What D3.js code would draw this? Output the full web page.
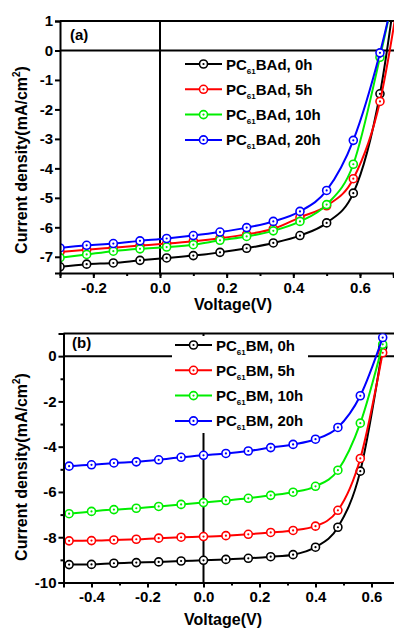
<!DOCTYPE html>
<html>
<head>
<meta charset="utf-8">
<script src="https://cdn.jsdelivr.net/npm/d3@7"></script>
<style>
  body { margin: 0; background: #fff; }
  text { font-family: "Liberation Sans", Arial, sans-serif; font-weight: bold; fill: #000; }
</style>
</head>
<body>
<div id="chart-container"></div>
<script>
// panel (a) : PC61BAd
const voltsA = [-0.3, -0.22, -0.14, -0.06, 0.02, 0.10, 0.18, 0.26, 0.34, 0.42, 0.50, 0.58, 0.66, 0.74];
const bad0h  = [-7.34, -7.25, -7.21, -7.12, -7.04, -6.96, -6.85, -6.71, -6.53, -6.28, -5.85, -4.84, -1.47, 5.0];
const bad5h  = [-6.84, -6.76, -6.69, -6.62, -6.55, -6.47, -6.37, -6.24, -6.05, -5.66, -5.27, -4.35, -1.73, 3.6];
const bad10h = [-7.03, -6.92, -6.81, -6.73, -6.67, -6.59, -6.44, -6.31, -6.12, -5.80, -5.23, -3.86, -0.23, 4.0];
const bad20h = [-6.70, -6.61, -6.55, -6.46, -6.38, -6.28, -6.16, -6.01, -5.80, -5.46, -4.75, -3.05, -0.08, 3.9];
const labelsA = ["BAd, 0h", "BAd, 5h", "BAd, 10h", "BAd, 20h"];
const xTicksA = [-0.2, 0.0, 0.2, 0.4, 0.6];
const yTicksA = [1, 0, -1, -2, -3, -4, -5, -6, -7];

// panel (b) : PC61BM
const voltsB = [-0.48, -0.40, -0.32, -0.24, -0.16, -0.08, 0.0, 0.08, 0.16, 0.24, 0.32, 0.40, 0.48, 0.56, 0.64];
const bm0h  = [-9.21, -9.20, -9.15, -9.12, -9.09, -9.05, -9.02, -8.98, -8.93, -8.86, -8.77, -8.44, -7.56, -5.08, 0.4];
const bm5h  = [-8.16, -8.15, -8.12, -8.09, -8.04, -8.00, -7.97, -7.93, -7.87, -7.79, -7.70, -7.51, -6.81, -4.52, 0.15];
const bm10h = [-6.96, -6.86, -6.78, -6.72, -6.64, -6.55, -6.47, -6.38, -6.28, -6.15, -6.01, -5.75, -5.04, -2.96, 0.52];
const bm20h = [-4.86, -4.80, -4.72, -4.67, -4.58, -4.47, -4.38, -4.30, -4.19, -4.04, -3.90, -3.67, -3.15, -1.75, 0.82];
const labelsB = ["BM, 0h", "BM, 5h", "BM, 10h", "BM, 20h"];
const xTicksB = [-0.4, -0.2, 0.0, 0.2, 0.4, 0.6];
const yTicksB = [0, -2, -4, -6, -8, -10];

const colors = ["#000000", "#ff0000", "#00ee00", "#0000ff"];

const svg = d3.select("#chart-container")
    .append("svg")
    .attr("width", 394)
    .attr("height", 628);

function drawPanel(p) {
    const x = d3.scaleLinear().domain(p.xDomain).range(p.xRange);
    const y = d3.scaleLinear().domain(p.yDomain).range(p.yRange);
    const g = svg.append("g");

    const clipId = "clip-" + p.tag;
    svg.append("clipPath").attr("id", clipId)
        .append("rect")
        .attr("x", p.xRange[0]).attr("y", p.yRange[1])
        .attr("width", 394 - p.xRange[0])
        .attr("height", p.yRange[0] - p.yRange[1]);

    // zero lines
    g.append("line")
        .attr("x1", p.xRange[0]).attr("x2", 394)
        .attr("y1", y(0)).attr("y2", y(0))
        .attr("stroke", "#000").attr("stroke-width", 2);
    g.append("line")
        .attr("x1", x(0)).attr("x2", x(0))
        .attr("y1", p.yRange[1]).attr("y2", p.yRange[0])
        .attr("stroke", "#000").attr("stroke-width", 2);

    // top frame line
    g.append("line")
        .attr("x1", p.xRange[0]).attr("x2", 394)
        .attr("y1", p.yRange[1]).attr("y2", p.yRange[1])
        .attr("stroke", "#000").attr("stroke-width", 2);

    const line = d3.line()
        .x(d => x(d[0]))
        .y(d => y(d[1]))
        .curve(d3.curveMonotoneX);

    const plot = g.append("g").attr("clip-path", `url(#${clipId})`);
    p.series.forEach((vals, i) => {
        const pts = p.volts.map((v, k) => [v, vals[k]]);
        plot.append("path")
            .datum(pts)
            .attr("fill", "none")
            .attr("stroke", colors[i])
            .attr("stroke-width", 2)
            .attr("d", line);
        const m = plot.selectAll(null).data(pts).enter().append("g")
            .attr("transform", d => `translate(${x(d[0])},${y(d[1])})`);
        m.append("circle").attr("r", 4)
            .attr("fill", "#fff").attr("stroke", colors[i]).attr("stroke-width", 1.6);
        m.append("circle").attr("r", 1.1).attr("fill", colors[i]);
    });

    // axes
    const xMinor = d3.range(p.xDomain[0], p.xDomain[1] + 0.001, 0.1).map(v => +v.toFixed(2));
    g.append("g")
        .attr("transform", `translate(0,${p.yRange[0]})`)
        .call(d3.axisBottom(x).tickValues(xMinor).tickSize(3).tickFormat(""))
        .call(a => a.select(".domain").remove())
        .selectAll("line").attr("stroke-width", 2);
    const xa = g.append("g")
        .attr("transform", `translate(0,${p.yRange[0]})`)
        .call(d3.axisBottom(x).tickValues(p.xTicks).tickSize(5).tickPadding(4)
            .tickFormat(d => d.toFixed(1)));
    xa.select(".domain").attr("stroke-width", 2);
    xa.selectAll("line").attr("stroke-width", 2);
    xa.selectAll("text").attr("font-size", 15).attr("font-weight", "bold")
        .attr("font-family", "Liberation Sans, Arial, sans-serif");

    if (p.yMinor) {
        g.append("g")
            .attr("transform", `translate(${p.xRange[0]},0)`)
            .call(d3.axisLeft(y).tickValues(p.yMinor).tickSize(3).tickFormat(""))
            .call(a => a.select(".domain").remove())
            .selectAll("line").attr("stroke-width", 2);
    }
    const ya = g.append("g")
        .attr("transform", `translate(${p.xRange[0]},0)`)
        .call(d3.axisLeft(y).tickValues(p.yTicks).tickSize(5).tickPadding(2)
            .tickFormat(d => String(d)));
    ya.select(".domain").attr("stroke-width", 2);
    ya.selectAll("line").attr("stroke-width", 2);
    ya.selectAll("text").attr("font-size", 15).attr("font-weight", "bold")
        .attr("font-family", "Liberation Sans, Arial, sans-serif");

    // panel tag
    g.append("text").attr("x", p.tagX).attr("y", p.tagY)
        .attr("font-size", 15).text(`(${p.tag})`);

    // axis titles
    g.append("text")
        .attr("x", p.xTitle[0]).attr("y", p.xTitle[1])
        .attr("text-anchor", "middle").attr("font-size", 16)
        .text("Voltage(V)");
    const yt = g.append("text")
        .attr("transform", `translate(${p.yTitle[0]},${p.yTitle[1]}) rotate(-90)`)
        .attr("text-anchor", "middle").attr("font-size", 16);
    yt.append("tspan").text("Current density(mA/cm");
    yt.append("tspan").attr("font-size", 10).attr("dy", -7).text("2");
    yt.append("tspan").attr("dy", 7).text(")");

    // legend
    if (p.legendBox) {
        g.append("rect")
            .attr("x", p.legendBox[0]).attr("y", p.legendBox[1])
            .attr("width", p.legendBox[2]).attr("height", p.legendBox[3])
            .attr("fill", "#fff");
    }
    p.labels.forEach((lab, i) => {
        const cy = p.legendY + i * 25.3;
        const lx = p.legendX;
        g.append("line")
            .attr("x1", lx).attr("x2", lx + 37)
            .attr("y1", cy).attr("y2", cy)
            .attr("stroke", colors[i]).attr("stroke-width", 2);
        g.append("circle").attr("cx", lx + 18.5).attr("cy", cy).attr("r", 4)
            .attr("fill", "#fff").attr("stroke", colors[i]).attr("stroke-width", 1.6);
        g.append("circle").attr("cx", lx + 18.5).attr("cy", cy).attr("r", 1.1)
            .attr("fill", colors[i]);
        const t = g.append("text").attr("x", lx + 41).attr("y", cy + 5.5)
            .attr("font-size", 15);
        t.append("tspan").text("PC");
        t.append("tspan").attr("font-size", 8).attr("dy", 4).text("61");
        t.append("tspan").attr("dy", -4).text(lab);
    });
}

drawPanel({
    tag: "a",
    volts: voltsA,
    series: [bad0h, bad5h, bad10h, bad20h],
    labels: labelsA,
    xDomain: [-0.3, 0.7], xRange: [60, 393.3],
    yDomain: [-7.55, 1], yRange: [273, 21],
    xTicks: xTicksA, yTicks: yTicksA, yMinor: null,
    tagX: 70, tagY: 40,
    xTitle: [233, 310], yTitle: [27, 160],
    legendX: 185, legendY: 64, legendBox: null
});

drawPanel({
    tag: "b",
    volts: voltsB,
    series: [bm0h, bm5h, bm10h, bm20h],
    labels: labelsB,
    xDomain: [-0.5, 0.7], xRange: [63.5, 399.5],
    yDomain: [-10, 1], yRange: [582.5, 333.5],
    xTicks: xTicksB, yTicks: yTicksB, yMinor: [-1, -3, -5, -7, -9],
    tagX: 72, tagY: 348,
    xTitle: [223, 625], yTitle: [27, 467],
    legendX: 175, legendY: 345, legendBox: [172, 336, 136, 97]
});
</script>
</body>
</html>
